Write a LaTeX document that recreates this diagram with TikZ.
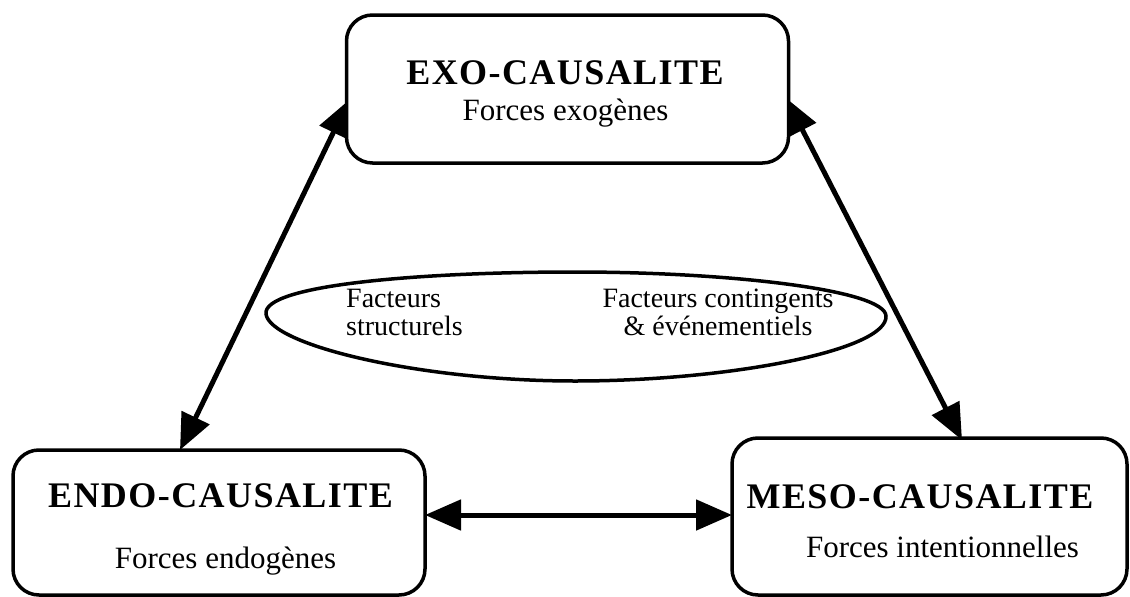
\documentclass[tikz,border=0pt]{standalone}
\usepackage{fontspec}
\setmainfont{Liberation Serif}
\usetikzlibrary{arrows.meta,calc}
\begin{document}
\begin{tikzpicture}[x=1pt,y=-1pt,
  box/.style={draw, fill=white, line width=3.5pt, rounded corners=26pt, inner sep=0pt},
  title/.style={anchor=base, inner sep=0pt,
    font=\fontsize{36}{39}\selectfont\bfseries\addfontfeature{LetterSpace=4}},
  sub/.style={anchor=base, inner sep=0pt, font=\fontsize{31}{34}\selectfont},
  note/.style={anchor=base, inner sep=0pt, font=\fontsize{28}{31}\selectfont},
  link/.style={line width=5pt, {Triangle[length=36pt,width=30pt]}-{Triangle[length=36pt,width=30pt]}}]
  \useasboundingbox (0,0) rectangle (1130,597);

  % attachment points of the links
  \coordinate (exoL)  at (349,100);
  \coordinate (exoR)  at (786,98);
  \coordinate (endoN) at (180,450);
  \coordinate (mesoN) at (962,440);
  \coordinate (endoE) at (425,515);
  \coordinate (mesoW) at (732,515);

  \draw[link] (exoL) -- (endoN);
  \draw[link] (exoR) -- (mesoN);
  \draw[link] (endoE) -- (mesoW);

  % the three boxes
  \node[box, minimum width=442pt, minimum height=148pt] (exo)  at (567.5,89) {};
  \node[box, minimum width=412pt, minimum height=145pt] (endo) at (219,522.5) {};
  \node[box, minimum width=395pt, minimum height=157pt] (meso) at (929.5,516.5) {};

  \node[title] (exoT)  at (565,84)  {EXO-CAUSALITE};
  \node[sub]   (exoS)  at (565.5,120) {Forces exogènes};
  \node[title] (endoT) at (220.5,507) {ENDO-CAUSALITE};
  \node[sub]   (endoS) at (225.5,568) {Forces endogènes};
  \node[title] (mesoT) at (920,508)   {MESO-CAUSALITE};
  \node[sub]   (mesoS) at (942.5,557) {Forces intentionnelles};

  % central lens-shaped outline
  \draw[line width=3.5pt] (266,314)
    .. controls (262,285) and (420,272) .. (575,272)
    .. controls (730,272) and (885,290) .. (886,316)
    .. controls (888,350) and (730,381) .. (575,381)
    .. controls (420,381) and (270,345) .. cycle;
  \node[note, anchor=base west] (f1) at (346,307) {Facteurs};
  \node[note, anchor=base west] (f2) at (346,335) {structurels};
  \node[note] (f3) at (718,307) {Facteurs contingents};
  \node[note] (f4) at (718,335) {\& événementiels};
\end{tikzpicture}
\end{document}
